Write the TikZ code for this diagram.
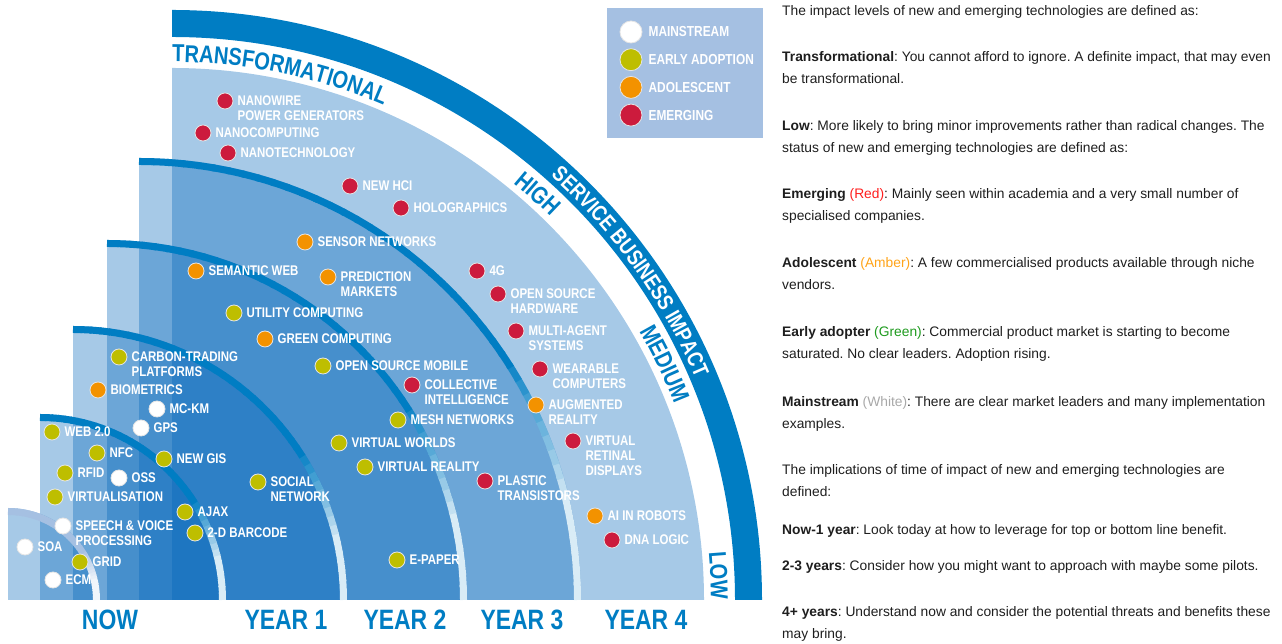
\documentclass[tikz,border=0pt]{standalone}
\usepackage{fontspec}
\setmainfont{Liberation Sans}
\newfontfamily\condfont{Liberation Sans}[FakeStretch=0.82]
\usetikzlibrary{decorations.text}
\frenchspacing
\definecolor{band}{HTML}{007DC3}
\definecolor{layer}{RGB}{0,100,185}
\definecolor{pale}{HTML}{A5C0E2}
\definecolor{mainstr}{HTML}{FFFFFF}
\definecolor{early}{HTML}{BEBE00}
\definecolor{adol}{HTML}{F39200}
\definecolor{emerg}{HTML}{CC1B3D}
\definecolor{txt}{HTML}{1E1E1E}
\definecolor{redtxt}{HTML}{FF1E1E}
\definecolor{ambtxt}{HTML}{FFA318}
\definecolor{grntxt}{HTML}{1E9A1E}
\definecolor{whttxt}{HTML}{A8A8A8}
\newcommand\condbf[2]{\condfont\bfseries\fontsize{#1}{#2}\selectfont}
\newcommand\levelfont{\condbf{24.5}{25}}
\newcommand\bandfont{\condbf{22}{22}}
\tikzset{
  zone/.style   ={fill=layer,fill opacity=.35},
  tech/.style   ={circle,draw=white!80!gray,line width=.8pt,minimum size=16pt,inner sep=0pt},
  techlab/.style={text=white,font=\condbf{14}{14.7},align=left,anchor=north west,inner sep=0pt},
  keylab/.style ={text=white,font=\condbf{14.5}{15},anchor=west,inner sep=0pt},
  year/.style   ={text=band,font=\condbf{28}{28},anchor=base},
  para/.style   ={text=txt,font=\fontsize{13.8}{22.8}\selectfont,align=left,anchor=north west,inner sep=0pt},
}

\begin{document}
\begin{tikzpicture}[x=1pt,y=1pt]
  \useasboundingbox (0,0) rectangle (1282,644);

  % --- quarter discs, one translucent layer each ---
  \foreach \cx/\r in {8/92,40/186,73/274,107/360,139/442,172/532}
    \fill[zone] (\cx,44) -- (\cx,44+\r) arc[start angle=90,end angle=0,radius=\r] -- cycle;

  % rims: dark blue on top, fading to a pale glow at the bottom
  \foreach \cx/\r/\rim in {8/92/pale,40/186/band,73/274/band,107/360/band,139/442/band}{
    \foreach \a in {0,2,...,88}{
      \pgfmathsetmacro\w{min(85,max(0,(32-\a)*4.25))}
      \pgfmathsetmacro\b{min(90,\a+2.4)}
      \draw[line width=7,white!\w!\rim] (\cx,44) ++(\b:\r-3.5)
        arc[start angle=\b,end angle=\a,radius=\r-3.5];
    }
  }

  % outer impact band
  \fill[band] (172,44+563) arc[start angle=90,end angle=0,radius=563]
    -- (172+590,44) arc[start angle=0,end angle=90,radius=590] -- cycle;

  % --- texts along the arcs ---
  \path[decorate,decoration={text along path,text color=band,text align=left,
      text={|\levelfont|TRANSFORMATIONAL}}]
    (172,44) ++(90:538) arc[start angle=90,end angle=50,radius=538];
  \path[decorate,decoration={text along path,text color=band,text align=center,
      text={|\levelfont|HIGH}}]
    (172,44) ++(60:539) arc[start angle=60,end angle=36,radius=539];
  \path[decorate,decoration={text along path,text color=band,text align=center,
      text={|\levelfont|MEDIUM}}]
    (172,44) ++(40:539) arc[start angle=40,end angle=11.2,radius=539];
  \path[decorate,decoration={text along path,text color=band,text align=center,
      text={|\levelfont|LOW}}]
    (172,44) ++(12:539) arc[start angle=12,end angle=-6.9,radius=539];
  \path[decorate,decoration={text along path,text color=white,text align=center,
      text={|\bandfont|SERVICE BUSINESS IMPACT}}]
    (172,44) ++(62:568.5) arc[start angle=62,end angle=9.2,radius=568.5];

  % --- technologies ---
  \foreach \x/\y/\c/\t [count=\i] in {
      225/101/emerg/{NANOWIRE\\POWER GENERATORS},
      203/133/emerg/NANOCOMPUTING,
      228/153/emerg/NANOTECHNOLOGY,
      350/186/emerg/NEW HCI,
      401/208/emerg/HOLOGRAPHICS,
      305/242/adol/SENSOR NETWORKS,
      196/271/adol/SEMANTIC WEB,
      328/277/adol/{PREDICTION\\MARKETS},
      477/271/emerg/4G,
      498/294/emerg/{OPEN SOURCE\\HARDWARE},
      234/313/early/UTILITY COMPUTING,
      265/339/adol/GREEN COMPUTING,
      516/331/emerg/{MULTI-AGENT\\SYSTEMS},
      119/357/early/{CARBON-TRADING\\PLATFORMS},
      323/366/early/OPEN SOURCE MOBILE,
      540/369/emerg/{WEARABLE\\COMPUTERS},
      412/385/emerg/{COLLECTIVE\\INTELLIGENCE},
      98/390/adol/BIOMETRICS,
      536/405/adol/{AUGMENTED\\REALITY},
      157/409/mainstr/MC-KM,
      398/420/early/MESH NETWORKS,
      141/428/mainstr/GPS,
      52/432/early/WEB 2.0,
      573/441/emerg/{VIRTUAL\\RETINAL\\DISPLAYS},
      339/443/early/VIRTUAL WORLDS,
      97/453/early/NFC,
      164/459/early/NEW GIS,
      365/467/early/VIRTUAL REALITY,
      65/473/early/RFID,
      119/478/mainstr/OSS,
      258/482/early/{SOCIAL\\NETWORK},
      485/481/emerg/{PLASTIC\\TRANSISTORS},
      55/497/early/VIRTUALISATION,
      185/512/early/AJAX,
      63/526/mainstr/{SPEECH \& VOICE\\PROCESSING},
      195/533/early/2-D BARCODE,
      595/516/adol/AI IN ROBOTS,
      25/547/mainstr/SOA,
      612/540/emerg/DNA LOGIC,
      80/562/early/GRID,
      397/560/early/E-PAPER,
      53/580/mainstr/ECM}{
    \node[tech,fill=\c] (t\i) at (\x,644-\y) {};
    \node[techlab] (l\i) at ([xshift=4pt,yshift=5pt]t\i.east) {\t};
  }

  % time axis
  \foreach \x/\t [count=\j] in {110/NOW,286/YEAR 1,405/YEAR 2,522/YEAR 3,646/YEAR 4}
    \node[year] (yr\j) at (\x,14) {\t};

  % legend
  \node[fill=pale,minimum width=156,minimum height=130,anchor=north west,inner sep=0pt]
    (keybox) at (607,636) {};
  \foreach \c/\t [count=\k] in {mainstr/MAINSTREAM,early/EARLY ADOPTION,adol/ADOLESCENT,emerg/EMERGING}{
    \node[tech,fill=\c,minimum size=22pt] (key\k) at (631,612-27.7*\k+27.7) {};
    \node[keylab] (keylab\k) at ([xshift=6pt]key\k.east) {\t};
  }

  % --- definitions on the right ---
  \foreach \y/\t [count=\n] in {
      10/{The impact levels of new and emerging technologies are defined as:},
      56/{\textbf{Transformational}: You cannot afford to ignore. A definite impact, that may even\\be transformational.},
      125/{\textbf{Low}: More likely to bring minor improvements rather than radical changes. The\\status of new and emerging technologies are defined as:},
      193/{\textbf{Emerging} \textcolor{redtxt}{(Red)}: Mainly seen within academia and a very small number of\\specialised companies.},
      262/{\textbf{Adolescent} \textcolor{ambtxt}{(Amber)}: A few commercialised products available through niche\\vendors.},
      331/{\textbf{Early adopter} \textcolor{grntxt}{(Green)}: Commercial product market is starting to become\\saturated. No clear leaders. Adoption rising.},
      401/{\textbf{Mainstream} \textcolor{whttxt}{(White)}: There are clear market leaders and many implementation\\examples.},
      469/{The implications of time of impact of new and emerging technologies are\\defined:},
      529/{\textbf{Now-1 year}: Look today at how to leverage for top or bottom line benefit.},
      565/{\textbf{2-3 years}: Consider how you might want to approach with maybe some pilots.},
      611/{\textbf{4+ years}: Understand now and consider the potential threats and benefits these\\may bring.}}
    \node[para] (p\n) at (782,649-\y) {\t};
\end{tikzpicture}
\end{document}
